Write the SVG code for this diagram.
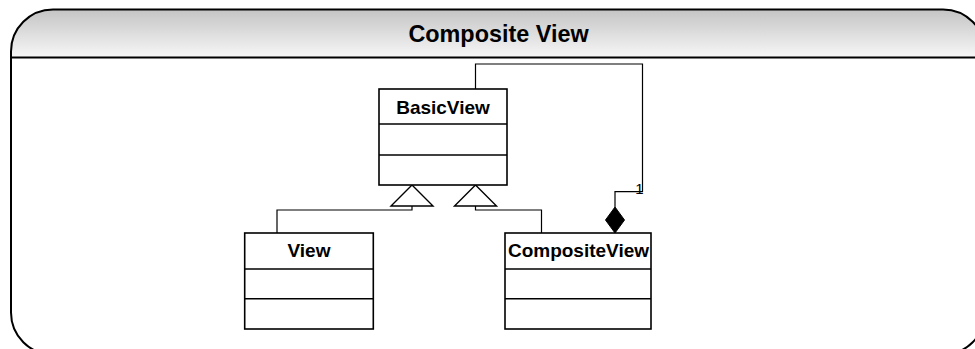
<svg xmlns="http://www.w3.org/2000/svg" width="975" height="349" viewBox="0 0 975 349">
<defs>
<linearGradient id="hdr" x1="0" y1="0" x2="0" y2="1">
<stop offset="0" stop-color="#c4c4c4"/>
<stop offset="1" stop-color="#f7f7f7"/>
</linearGradient>
<clipPath id="frameclip"><rect x="11" y="9.5" width="974" height="345" rx="42" ry="42"/></clipPath>
</defs>
<style>
.cls{fill:#fff;stroke:#000;stroke-width:1.6}
.div{stroke:#000;stroke-width:1.6;fill:none}
.name{font-family:"Liberation Sans",Arial,sans-serif;font-weight:bold;font-size:19px;text-anchor:middle;fill:#000}
.con{fill:none;stroke:#000;stroke-width:1.2}
.tri{fill:#fff;stroke:#000;stroke-width:1.4}
</style>
<rect width="975" height="349" fill="#fff"/>
<g id="frame">
<rect x="11" y="9.5" width="974" height="48" fill="url(#hdr)" clip-path="url(#frameclip)"/>
<rect x="11" y="9.5" width="974" height="345" rx="42" ry="42" fill="none" stroke="#000" stroke-width="2"/>
<line x1="11" y1="57.5" x2="975" y2="57.5" stroke="#000" stroke-width="2"/>
<text x="498.5" y="41.5" font-family="'Liberation Sans',Arial,sans-serif" font-weight="bold" font-size="23.4" text-anchor="middle">Composite View</text>
</g>
<g id="connectors">
<polyline class="con" points="412,206 412,210 277,210 277,233"/>
<polyline class="con" points="475.5,206 475.5,210 541.5,210 541.5,233"/>
<polyline class="con" points="615,207 615,191.7 642.5,191.7 642.5,64 475.5,64 475.5,89"/>
<polygon class="tri" points="412,185 391,206 433,206"/>
<polygon class="tri" points="475.5,185 454.5,206 496.5,206"/>
<polygon points="615,207 624.5,220 615,233 605.5,220" fill="#000" stroke="#000" stroke-width="1"/>
<text x="643.5" y="194" font-family="'Liberation Sans',Arial,sans-serif" font-size="15" text-anchor="end" fill="#000">1</text>
</g>
<g id="BasicView">
<rect class="cls" x="379" y="89" width="128" height="96"/>
<line class="div" x1="379" y1="124" x2="507" y2="124"/>
<line class="div" x1="379" y1="155" x2="507" y2="155"/>
<text class="name" x="443" y="113.5">BasicView</text>
</g>
<g id="View">
<rect class="cls" x="244.7" y="233" width="128.6" height="96"/>
<line class="div" x1="244.7" y1="269" x2="373.3" y2="269"/>
<line class="div" x1="244.7" y1="298.7" x2="373.3" y2="298.7"/>
<text class="name" x="309" y="257">View</text>
</g>
<g id="CompositeView">
<rect class="cls" x="505" y="233" width="146" height="96"/>
<line class="div" x1="505" y1="269" x2="651" y2="269"/>
<line class="div" x1="505" y1="298.7" x2="651" y2="298.7"/>
<text class="name" x="578.5" y="257">CompositeView</text>
</g>
</svg>
